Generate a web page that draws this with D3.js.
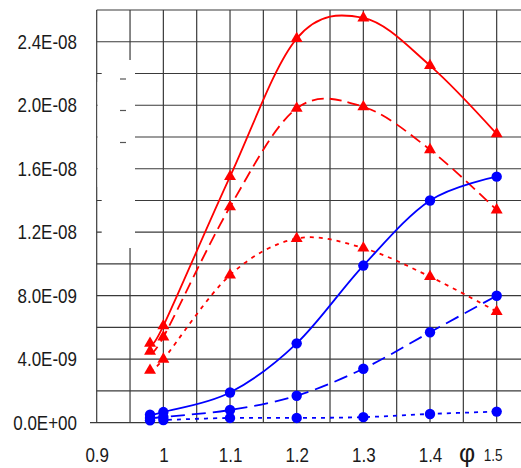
<!DOCTYPE html>
<html><head><meta charset="utf-8">
<script src="https://cdn.jsdelivr.net/npm/d3@7"></script>
<style>body{margin:0;background:#fff}svg{display:block}text{font-family:"Liberation Sans",Arial,sans-serif;fill:#1a1a1a}</style>
</head><body>
<script>
const phi = [0.98, 1.0, 1.1, 1.2, 1.3, 1.4, 1.5];
const redSolid  = [5.0e-9, 6.1e-9, 1.55e-8, 2.42e-8, 2.55e-8, 2.25e-8, 1.82e-8];
const redDashed = [4.5e-9, 5.4e-9, 1.36e-8, 1.98e-8, 1.99e-8, 1.72e-8, 1.34e-8];
const redDotted = [3.3e-9, 4.0e-9, 9.3e-9, 1.16e-8, 1.10e-8, 9.2e-9, 7.0e-9];
const blueSolid  = [0.50e-9, 0.67e-9, 1.9e-9, 5.0e-9, 9.9e-9, 1.40e-8, 1.55e-8];
const blueDashed = [0.30e-9, 0.36e-9, 0.8e-9, 1.7e-9, 3.4e-9, 5.7e-9, 8.0e-9];
const blueDotted = [0.15e-9, 0.17e-9, 0.30e-9, 0.30e-9, 0.35e-9, 0.55e-9, 0.70e-9];
const xTickValues = [0.9, 1.0, 1.1, 1.2, 1.3, 1.4, 1.5];
const xTickLabels = ["0.9", "1", "1.1", "1.2", "1.3", "1.4", "1.5"];
const yTickValues = [0, 4e-9, 8e-9, 1.2e-8, 1.6e-8, 2.0e-8, 2.4e-8];
const yTickLabels = ["0.0E+00", "4.0E-09", "8.0E-09", "1.2E-08", "1.6E-08", "2.0E-08", "2.4E-08"];
const xAxisTitle = "φ";

const W = 521, H = 468;
const svg = d3.select("body").append("svg").attr("width", W).attr("height", H);
const x = d3.scaleLinear().domain([0.9, 1.55]).range([96.7, 530]);
const y = d3.scaleLinear().domain([0, 2.6e-8]).range([422.7, 10]);

// grid
const g = svg.append("g").attr("stroke", "#3a3a3a").attr("stroke-width", 1.2);
g.selectAll(".v").data(d3.range(0, 14).map(i => 0.9 + i * 0.05)).join("line")
  .attr("x1", d => x(d)).attr("x2", d => x(d)).attr("y1", y(2.6e-8)).attr("y2", y(0));
g.selectAll(".h").data(d3.range(0, 14).map(i => i * 2e-9)).join("line")
  .attr("x1", d => d === 0 ? 90 : x(0.9)).attr("x2", x(1.55)).attr("y1", d => y(d)).attr("y2", d => y(d));

// erased legend area
svg.append("rect").attr("x", 101.7).attr("y", 60).attr("width", 33.3).attr("height", 188).attr("fill", "#fff");
svg.append("rect").attr("x", 97.6).attr("y", 82).attr("width", 4.5).attr("height", 105).attr("fill", "#fff");
svg.append("g").attr("stroke", "#555").attr("stroke-width", 1.2).selectAll("line")
  .data([79, 110.5, 142.5]).join("line")
  .attr("x1", 120).attr("x2", 126).attr("y1", d => d).attr("y2", d => d);

// axes labels
const sx = 0.85;
const ya = svg.append("g").attr("transform", `translate(${x(0.9)},0)`)
  .call(d3.axisLeft(y).tickValues(yTickValues).tickSize(0).tickPadding(19.7 / sx)
    .tickFormat((d, i) => yTickLabels[i]));
ya.select(".domain").remove();
ya.selectAll("text").attr("font-size", 20).attr("font-family", '"Liberation Sans",Arial,sans-serif')
  .attr("fill", "#1a1a1a").attr("transform", `scale(${sx},1)`);

const xa = svg.append("g").attr("transform", `translate(0,${y(0)})`)
  .call(d3.axisBottom(x).tickValues(xTickValues).tickSize(0).tickPadding(25)
    .tickFormat((d, i) => xTickLabels[i]));
xa.select(".domain").remove();
xa.selectAll("text").attr("font-size", 20).attr("font-family", '"Liberation Sans",Arial,sans-serif')
  .attr("fill", "#1a1a1a").attr("transform", `scale(${sx},1)`);
xa.selectAll(".tick").filter(d => d === 1.5).select("text")
  .attr("font-size", 16).attr("y", 26.5).attr("x", -4 / sx);

svg.append("text").attr("x", 467).attr("y", 462).attr("text-anchor", "middle")
  .attr("font-size", 25).attr("fill", "#1a1a1a").text(xAxisTitle);

// series
const series = [
  {v: redSolid, c: "#ff0000", dash: null, m: "tri"},
  {v: redDashed, c: "#ff0000", dash: "12,6", m: "tri"},
  {v: redDotted, c: "#ff0000", dash: "4,5", m: "tri"},
  {v: blueSolid, c: "#0000ff", dash: null, m: "cir"},
  {v: blueDashed, c: "#0000ff", dash: "14,7", m: "cir"},
  {v: blueDotted, c: "#0000ff", dash: "4,5", m: "cir"}
];
const line = d3.line().x(d => x(d[0])).y(d => y(d[1])).curve(d3.curveCardinal.tension(0));
const tri = d3.symbol().type(d3.symbolTriangle).size(62);
const cir = d3.symbol().type(d3.symbolCircle).size(85);
series.forEach(s => {
  const pts = phi.map((p, i) => [p, s.v[i]]);
  svg.append("path").attr("d", line(pts)).attr("fill", "none").attr("stroke", s.c)
    .attr("stroke-width", 1.8).attr("stroke-dasharray", s.dash);
  svg.append("g").selectAll("path").data(pts).join("path")
    .attr("d", s.m === "tri" ? tri : cir)
    .attr("transform", d => `translate(${x(d[0])},${y(d[1])})`).attr("fill", s.c);
});
</script>
</body></html>
